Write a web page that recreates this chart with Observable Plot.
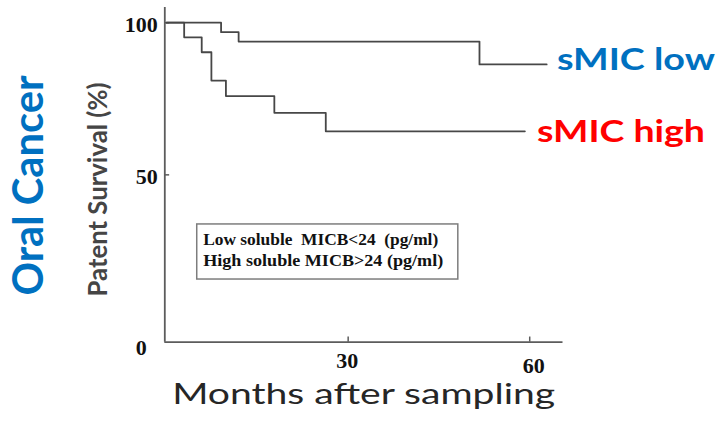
<!DOCTYPE html>
<html>
<head>
<meta charset="utf-8">
<script src="https://cdn.jsdelivr.net/npm/d3@7"></script>
<script src="https://cdn.jsdelivr.net/npm/@observablehq/plot@0.6"></script>
<style>
  html, body { margin: 0; padding: 0; background: #ffffff; }
  #chart { width: 719px; height: 423px; }
  svg text { white-space: pre; }
</style>
</head>
<body>
<div id="chart"></div>
<script>
// ---- data ----
const lowTime  = [0, 9.0, 11.9, 51.7, 62.8];          // months
const lowSurv  = [100, 96.9, 93.8, 86.3, 86.3];       // %
const highTime = [0, 2.9, 5.8, 7.4, 9.8, 17.8, 26.3, 59.2];
const highSurv = [100, 95.2, 90.3, 81.0, 75.9, 70.4, 64.3, 64.3];

const groups = ["sMIC low", "sMIC high"];
const groupColors = ["#0070C0", "#FF0000"];

const xTicks = [30, 60];
const yTicks = [50, 100];
const yOrigin = [0];

const legendLines = ["Low soluble  MICB<24  (pg/ml)", "High soluble MICB>24 (pg/ml)"];
const xTitle = "Months after sampling";
const yTitle = "Patent Survival (%)";
const sideTitle = "Oral Cancer";

// ---- tables built from the arrays ----
const low = lowTime.map((t, i) => ({t, s: lowSurv[i]}));
const high = highTime.map((t, i) => ({t, s: highSurv[i]}));

const xDomain = [-0.3, 65.5];
const yDomain = [-5, 105];
const axisColor = "#5c5c5c";
const curveColor = "#474747";
const serif = "'Liberation Serif', 'Times New Roman', serif";
const sans = "Lato, 'Open Sans', sans-serif";

const chart = Plot.plot({
  width: 719,
  height: 423,
  marginLeft: 164.3,
  marginRight: 156.5,
  marginTop: 7,
  marginBottom: 81.3,
  x: {domain: xDomain},
  y: {domain: yDomain},
  style: {background: "#ffffff", color: "#111"},
  marks: [
    // axis lines
    Plot.ruleX([xDomain[0]], {stroke: axisColor, strokeWidth: 1.8}),
    Plot.ruleY([yDomain[0]], {stroke: axisColor, strokeWidth: 1.8}),
    // inward ticks
    Plot.ruleY(yTicks, {x1: xDomain[0], x2: 0.5, stroke: axisColor, strokeWidth: 1.5}),
    Plot.ruleX(xTicks, {y1: yDomain[0], y2: yDomain[0] + 1.7, stroke: axisColor, strokeWidth: 1.5}),
    // tick labels
    Plot.axisY(yTicks, {tickSize: 0, tickPadding: 7, dy: 2, label: null,
      fontFamily: serif, fontWeight: "bold", fontSize: 22, fill: "#111"}),
    Plot.axisY(yOrigin, {tickSize: 0, tickPadding: 7, dx: -11, dy: 21, label: null,
      fontFamily: serif, fontWeight: "bold", fontSize: 22, fill: "#111"}),
    Plot.axisX([xTicks[0]], {tickSize: 0, tickPadding: 10, dx: -1, label: null,
      fontFamily: serif, fontWeight: "bold", fontSize: 22, fill: "#111"}),
    Plot.axisX([xTicks[1]], {tickSize: 0, tickPadding: 10, dx: 4, dy: 5.6, label: null,
      fontFamily: serif, fontWeight: "bold", fontSize: 22, fill: "#111"}),
    // survival curves
    Plot.line(low, {x: "t", y: "s", curve: "step-after", stroke: curveColor, strokeWidth: 1.8}),
    Plot.line(high, {x: "t", y: "s", curve: "step-after", stroke: curveColor, strokeWidth: 1.8}),
    // legend box
    Plot.rect([legendLines], {x1: 5.06, x2: 48.2, y1: 15.6, y2: 33.7,
      fill: "#ffffff", stroke: "#7d7d7d", strokeWidth: 1.5}),
    Plot.text(legendLines, {x: 6.05, y: (d, i) => 26.8 - i * 6.6, text: d => d,
      textAnchor: "start", lineAnchor: "bottom", fontFamily: serif, fontWeight: "bold",
      fontSize: 16.5, fill: "#111"}),
    // group labels
    Plot.text(groups, {x: [64.5, 61.2], y: [84.3, 60.7], text: d => d,
      fill: (d, i) => groupColors[i], textAnchor: "start", lineAnchor: "bottom",
      fontFamily: sans, fontWeight: "bold", fontSize: 30.5}),
    // axis titles
    Plot.text([xTitle], {frameAnchor: "bottom-left", dx: 7.4, dy: 61.6, text: d => d,
      textAnchor: "start", lineAnchor: "bottom", fontFamily: sans, fontSize: 29,
      fill: "#262626"}),
    Plot.text([yTitle], {frameAnchor: "left", dx: -57.6, dy: 14.6, rotate: -90, text: d => d,
      textAnchor: "middle", lineAnchor: "bottom", fontFamily: sans, fontWeight: "bold", fontSize: 27,
      fill: "#454545"}),
    Plot.text([sideTitle], {frameAnchor: "left", dx: -121.6, dy: 10.65, rotate: -90, text: d => d,
      textAnchor: "middle", lineAnchor: "bottom", fontFamily: sans, fontWeight: "bold", fontSize: 42,
      fill: "#0070C0"})
  ]
});

document.getElementById("chart").appendChild(chart);

// stretch texts to the widths measured on the reference
const targetLengths = new Map([
  [legendLines[0], 235], [legendLines[1], 240],
  [groups[0], 158], [groups[1], 168],
  [xTitle, 383], [yTitle, 214], [sideTitle, 220]
]);
d3.select(chart).selectAll("text").each(function () {
  const len = targetLengths.get(this.textContent);
  if (len != null) {
    this.setAttribute("xml:space", "preserve");
    this.setAttribute("textLength", len);
    this.setAttribute("lengthAdjust", "spacingAndGlyphs");
  }
});
</script>
</body>
</html>
